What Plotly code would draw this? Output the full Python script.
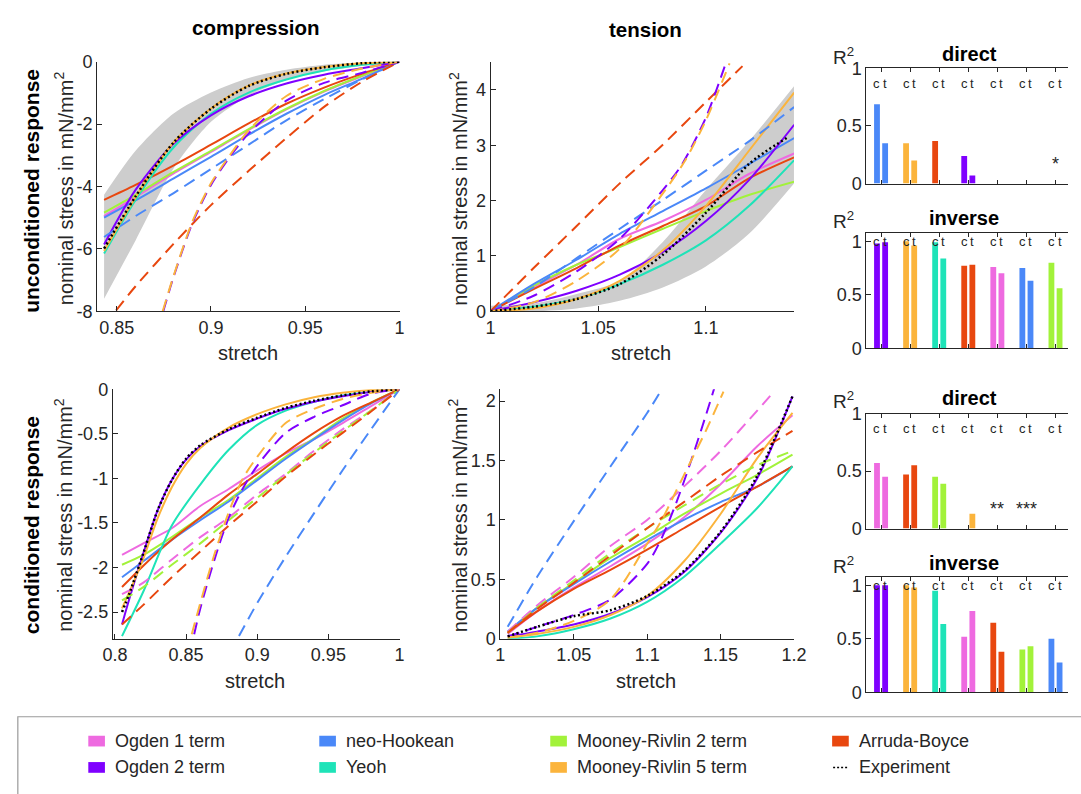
import plotly.graph_objects as go

W, H = 1081, 794

# ------------------------------------------------------------------ models
MODELS = ["Ogden 1 term", "Ogden 2 term", "neo-Hookean", "Yeoh",
          "Mooney-Rivlin 2 term", "Mooney-Rivlin 5 term", "Arruda-Boyce"]
COLORS = {
    "Ogden 1 term": "#EE6AE0",
    "Ogden 2 term": "#7F00FF",
    "neo-Hookean": "#4A88F8",
    "Yeoh": "#1EE3B8",
    "Mooney-Rivlin 2 term": "#A2F23A",
    "Mooney-Rivlin 5 term": "#FBB43C",
    "Arruda-Boyce": "#E8470F",
}

# ------------------------------------------- unconditioned, compression
uc_stretch = [0.8433, 0.86, 0.88, 0.90, 0.92, 0.94, 0.96, 0.98, 1.0]
uc_band_low = [-7.6, -5.73, -3.44, -1.93, -1.09, -0.59, -0.31, -0.14, 0.0]
uc_band_high = [-4.27, -2.86, -1.67, -0.99, -0.52, -0.26, -0.10, -0.03, 0.0]
uc_experiment = [-5.99, -4.32, -2.60, -1.51, -0.78, -0.39, -0.18, -0.05, 0.0]
uc_inverse = {
    "Ogden 1 term": [-4.95, -4.34, -3.59, -2.89, -2.19, -1.53, -0.96, -0.47, 0.0],
    "Mooney-Rivlin 2 term": [-4.84, -4.27, -3.54, -2.86, -2.16, -1.51, -0.94, -0.45, 0.0],
    "neo-Hookean": [-5.0, -4.45, -3.75, -3.05, -2.34, -1.67, -1.07, -0.55, 0.0],
    "Arruda-Boyce": [-4.43, -3.95, -3.33, -2.66, -1.98, -1.35, -0.83, -0.39, 0.0],
    "Ogden 2 term": [-5.86, -4.11, -2.64, -1.72, -1.11, -0.70, -0.42, -0.21, 0.0],
    "Yeoh": [-6.15, -4.43, -2.76, -1.67, -0.99, -0.57, -0.28, -0.10, 0.0],
    "Mooney-Rivlin 5 term": [-6.07, -4.35, -2.60, -1.50, -0.77, -0.38, -0.17, -0.05, 0.0],
}
uc_direct = {
    "neo-Hookean": ([0.8433, 0.86, 0.88, 0.90, 0.92, 0.94, 0.96, 0.98, 1.0],
                    [-5.62, -4.95, -4.22, -3.44, -2.66, -1.88, -1.20, -0.57, 0.0]),
    "Arruda-Boyce": ([0.8497, 0.86, 0.88, 0.90, 0.92, 0.94, 0.96, 0.98, 1.0],
                     [-7.97, -7.2, -5.85, -4.6, -3.5, -2.45, -1.45, -0.65, 0.0]),
    "Ogden 2 term": ([0.8747, 0.88, 0.89, 0.90, 0.91, 0.92, 0.94, 0.96, 0.98, 1.0],
                     [-8.0, -6.93, -5.2, -3.95, -3.05, -2.3, -1.25, -0.68, -0.36, 0.0]),
    "Mooney-Rivlin 5 term": ([0.8744, 0.88, 0.89, 0.90, 0.91, 0.92, 0.94, 0.96, 0.98, 1.0],
                             [-8.0, -6.9, -5.15, -3.9, -3.0, -2.2, -1.1, -0.55, -0.22, 0.0]),
}

# ---------------------------------------------- unconditioned, tension
ut_stretch = [1.0, 1.02, 1.04, 1.06, 1.08, 1.10, 1.12, 1.141]
ut_band_low = [0.0, 0.0, 0.05, 0.19, 0.43, 0.81, 1.40, 2.31]
ut_band_high = [0.10, 0.14, 0.31, 0.55, 1.25, 2.19, 3.07, 4.07]
ut_exp_stretch = [1.0, 1.02, 1.04, 1.06, 1.08, 1.10, 1.12, 1.1375]
ut_experiment = [0.0, 0.08, 0.22, 0.49, 1.02, 1.78, 2.66, 3.13]
ut_inverse = {
    "Ogden 1 term": [0.0, 0.43, 0.84, 1.31, 1.63, 2.01, 2.48, 2.85],
    "Mooney-Rivlin 2 term": [0.0, 0.46, 0.84, 1.16, 1.49, 1.81, 2.10, 2.34],
    "neo-Hookean": [0.0, 0.49, 0.93, 1.40, 1.81, 2.22, 2.66, 3.13],
    "Arruda-Boyce": [0.0, 0.40, 0.78, 1.19, 1.54, 1.90, 2.40, 2.78],
    "Yeoh": [0.0, 0.08, 0.22, 0.49, 0.84, 1.28, 1.90, 2.73],
    "Ogden 2 term": [0.0, 0.16, 0.37, 0.66, 1.07, 1.63, 2.37, 3.37],
    "Mooney-Rivlin 5 term": [0.0, 0.05, 0.22, 0.55, 1.10, 1.90, 2.90, 3.95],
}
ut_direct = {
    "neo-Hookean": ([1.0, 1.02, 1.04, 1.06, 1.08, 1.10, 1.12, 1.141],
                    [0.0, 0.43, 0.96, 1.49, 2.01, 2.54, 3.07, 3.69]),
    "Arruda-Boyce": ([1.0, 1.02, 1.04, 1.06, 1.08, 1.10, 1.117],
                     [0.0, 0.78, 1.54, 2.31, 3.01, 3.78, 4.43]),
    "Ogden 2 term": ([1.0, 1.02, 1.04, 1.06, 1.08, 1.089, 1.10, 1.1087],
                     [0.0, 0.28, 0.72, 1.31, 2.19, 2.66, 3.50, 4.42]),
    "Mooney-Rivlin 5 term": ([1.0, 1.02, 1.04, 1.06, 1.08, 1.09, 1.10, 1.111],
                             [0.0, 0.16, 0.55, 1.13, 2.13, 2.70, 3.45, 4.48]),
}

# --------------------------------------------- conditioned, compression
cc_stretch = [0.805, 0.82, 0.84, 0.86, 0.88, 0.90, 0.92, 0.94, 0.96, 0.98, 1.0]
cc_fine_stretch = [0.805, 0.81, 0.82, 0.83, 0.84, 0.85, 0.86, 0.88, 0.90, 0.92, 0.94,
                   0.96, 0.98, 1.0]
cc_experiment = [-2.50, -2.30, -1.84, -1.36, -1.02, -0.78, -0.63, -0.45, -0.32, -0.21,
                 -0.13, -0.07, -0.025, 0.0]
cc_inverse = {
    "Ogden 1 term": [-1.86, -1.73, -1.56, -1.31, -1.12, -0.91, -0.72, -0.56, -0.38, -0.19, 0.0],
    "Mooney-Rivlin 2 term": [-1.97, -1.86, -1.66, -1.44, -1.24, -1.00, -0.76, -0.55, -0.33, -0.15, 0.0],
    "neo-Hookean": [-2.11, -1.93, -1.69, -1.47, -1.26, -1.02, -0.78, -0.56, -0.35, -0.16, 0.0],
    "Arruda-Boyce": [-2.22, -1.98, -1.69, -1.44, -1.18, -0.95, -0.71, -0.49, -0.30, -0.15, 0.0],
    "Yeoh": [-2.77, -2.27, -1.53, -1.07, -0.68, -0.40, -0.24, -0.14, -0.07, -0.03, 0.0],
}
cc_inverse_fine = {
    "Ogden 2 term": [-2.64, -2.36, -1.84, -1.36, -1.02, -0.79, -0.64, -0.46, -0.33, -0.22,
                     -0.14, -0.08, -0.03, 0.0],
    "Mooney-Rivlin 5 term": [-2.46, -2.28, -1.90, -1.45, -1.10, -0.84, -0.66, -0.43, -0.28,
                             -0.17, -0.09, -0.04, -0.01, 0.0],
}
cc_direct = {
    "Ogden 1 term": (cc_stretch, [-2.30, -2.17, -1.91, -1.66, -1.44, -1.18, -0.95, -0.69, -0.45, -0.24, 0.0]),
    "Mooney-Rivlin 2 term": (cc_stretch, [-2.37, -2.22, -1.97, -1.73, -1.47, -1.22, -0.96, -0.71, -0.47, -0.24, 0.0]),
    "Arruda-Boyce": (cc_stretch, [-2.64, -2.42, -2.11, -1.82, -1.53, -1.26, -0.98, -0.73, -0.49, -0.25, 0.0]),
    "neo-Hookean": ([0.8872, 0.90, 0.92, 0.94, 0.96, 0.98, 1.0],
                    [-2.77, -2.40, -1.88, -1.39, -0.91, -0.45, 0.0]),
    "Ogden 2 term": ([0.8557, 0.86, 0.87, 0.88, 0.89, 0.90, 0.92, 0.94, 0.96, 0.98, 1.0],
                     [-2.75, -2.46, -1.91, -1.44, -1.11, -0.86, -0.49, -0.31, -0.18, -0.05, 0.0]),
    "Mooney-Rivlin 5 term": ([0.854, 0.86, 0.87, 0.88, 0.89, 0.90, 0.92, 0.94, 0.96, 0.98, 1.0],
                             [-2.75, -2.40, -1.85, -1.38, -1.00, -0.76, -0.38, -0.22, -0.11, -0.04, 0.0]),
}

# ------------------------------------------------ conditioned, tension
ct_stretch = [1.005, 1.025, 1.05, 1.075, 1.10, 1.125, 1.15, 1.175, 1.199]
ct_experiment = [0.02, 0.10, 0.19, 0.24, 0.36, 0.57, 0.90, 1.37, 2.04]
ct_inverse = {
    "Ogden 1 term": [0.04, 0.23, 0.43, 0.61, 0.80, 1.02, 1.30, 1.62, 1.88],
    "Mooney-Rivlin 2 term": [0.05, 0.26, 0.47, 0.68, 0.86, 1.05, 1.22, 1.38, 1.55],
    "neo-Hookean": [0.06, 0.26, 0.46, 0.65, 0.83, 1.00, 1.15, 1.28, 1.45],
    "Arruda-Boyce": [0.05, 0.23, 0.42, 0.58, 0.75, 0.93, 1.11, 1.28, 1.45],
    "Yeoh": [0.0, 0.02, 0.08, 0.17, 0.31, 0.52, 0.80, 1.10, 1.45],
    "Mooney-Rivlin 5 term": [0.01, 0.04, 0.10, 0.20, 0.36, 0.65, 1.05, 1.52, 1.90],
    "Ogden 2 term": [0.02, 0.06, 0.12, 0.21, 0.35, 0.56, 0.89, 1.35, 2.04],
}
ct_direct = {
    "Arruda-Boyce": (ct_stretch, [0.05, 0.25, 0.47, 0.70, 0.93, 1.15, 1.37, 1.57, 1.75]),
    "Mooney-Rivlin 2 term": (ct_stretch, [0.05, 0.26, 0.49, 0.72, 0.93, 1.12, 1.30, 1.46, 1.58]),
    "Ogden 1 term": ([1.005, 1.025, 1.05, 1.075, 1.10, 1.125, 1.15, 1.175, 1.185],
                     [0.06, 0.28, 0.52, 0.78, 1.00, 1.28, 1.58, 1.92, 2.06]),
    "neo-Hookean": ([1.005, 1.025, 1.05, 1.075, 1.10, 1.11],
                    [0.10, 0.52, 0.99, 1.45, 1.90, 2.10]),
    "Ogden 2 term": ([1.005, 1.025, 1.05, 1.075, 1.10, 1.11, 1.12, 1.13, 1.14, 1.146],
                     [0.02, 0.10, 0.20, 0.33, 0.63, 0.85, 1.15, 1.50, 1.88, 2.12]),
    "Mooney-Rivlin 5 term": ([1.005, 1.025, 1.05, 1.075, 1.10, 1.11, 1.12, 1.13, 1.14, 1.152],
                             [0.01, 0.05, 0.15, 0.33, 0.80, 1.00, 1.25, 1.50, 1.75, 2.08]),
}

# ------------------------------------------------------------ R^2 bars
uc_dir_models = ["neo-Hookean", "Mooney-Rivlin 5 term", "Arruda-Boyce", "Ogden 2 term",
                 "Ogden 1 term", "Yeoh", "Mooney-Rivlin 2 term"]
uc_dir_c = [0.69, 0.35, 0.37, 0.24, None, None, None]
uc_dir_t = [0.35, 0.20, None, 0.07, None, None, None]
uc_dir_marks = ["", "", "", "", "", "", "*"]

uc_inv_models = ["Ogden 2 term", "Mooney-Rivlin 5 term", "Yeoh", "Arruda-Boyce",
                 "Ogden 1 term", "neo-Hookean", "Mooney-Rivlin 2 term"]
uc_inv_c = [0.98, 1.0, 0.99, 0.77, 0.76, 0.75, 0.80]
uc_inv_t = [0.99, 0.96, 0.84, 0.78, 0.70, 0.63, 0.56]

c_dir_models = ["Ogden 1 term", "Arruda-Boyce", "Mooney-Rivlin 2 term", "Mooney-Rivlin 5 term",
                "Ogden 2 term", "Yeoh", "neo-Hookean"]
c_dir_c = [0.57, 0.47, 0.45, None, None, None, None]
c_dir_t = [0.45, 0.55, 0.39, 0.13, None, None, None]
c_dir_marks = ["", "", "", "", "**", "***", ""]

c_inv_models = ["Ogden 2 term", "Mooney-Rivlin 5 term", "Yeoh", "Ogden 1 term",
                "Arruda-Boyce", "Mooney-Rivlin 2 term", "neo-Hookean"]
c_inv_c = [1.0, 1.0, 0.95, 0.52, 0.65, 0.40, 0.50]
c_inv_t = [1.0, 0.98, 0.64, 0.76, 0.38, 0.43, 0.28]

# =================================================================== figure
FONT = "Liberation Sans, Arial, Helvetica, sans-serif"
AX = "#262626"
fig = go.Figure()


def px(x):
    return x / W


def py(y):
    return 1 - y / H


SOLID_ORDER = ["Ogden 1 term", "Mooney-Rivlin 2 term", "neo-Hookean", "Arruda-Boyce",
               "Yeoh", "Ogden 2 term", "Mooney-Rivlin 5 term"]
DASH = "12px,7px"
SPL = dict(shape="spline", smoothing=0.8)


def line_panel(n, stretch, inverse, direct, exp_x, exp_y, band=None, inverse_alt=None):
    xa, ya = ("x" if n == 1 else f"x{n}"), ("y" if n == 1 else f"y{n}")
    if band is not None:
        fig.add_trace(go.Scatter(x=stretch, y=band[0], mode="lines", line=dict(width=0, **SPL),
                                 xaxis=xa, yaxis=ya, showlegend=False, hoverinfo="skip"))
        fig.add_trace(go.Scatter(x=stretch, y=band[1], mode="lines", line=dict(width=0, **SPL),
                                 fill="tonexty", fillcolor="#CDCDCD",
                                 xaxis=xa, yaxis=ya, showlegend=False, hoverinfo="skip"))
    for m in SOLID_ORDER:
        if m in inverse:
            sx, sy = stretch, inverse[m]
        elif inverse_alt and m in inverse_alt[1]:
            sx, sy = inverse_alt[0], inverse_alt[1][m]
        else:
            continue
        fig.add_trace(go.Scatter(x=sx, y=sy, mode="lines",
                                 line=dict(color=COLORS[m], width=2, **SPL),
                                 xaxis=xa, yaxis=ya, showlegend=False, name=m))
    for m in SOLID_ORDER:
        if m in direct:
            dx, dy = direct[m]
            fig.add_trace(go.Scatter(x=dx, y=dy, mode="lines",
                                     line=dict(color=COLORS[m], width=2, dash=DASH, **SPL),
                                     xaxis=xa, yaxis=ya, showlegend=False, name=m))
    fig.add_trace(go.Scatter(x=exp_x, y=exp_y, mode="lines",
                             line=dict(color="black", width=2.5, dash="2px,2.6px", **SPL),
                             xaxis=xa, yaxis=ya, showlegend=False, name="Experiment"))


line_panel(1, uc_stretch, uc_inverse, uc_direct, uc_stretch, uc_experiment,
           band=(uc_band_low, uc_band_high))
line_panel(2, ut_stretch, ut_inverse, ut_direct, ut_exp_stretch, ut_experiment,
           band=(ut_band_low, ut_band_high))
line_panel(5, cc_stretch, cc_inverse, cc_direct, cc_fine_stretch, cc_experiment,
           inverse_alt=(cc_fine_stretch, cc_inverse_fine))
line_panel(6, ct_stretch, ct_inverse, ct_direct, ct_stretch, ct_experiment)

OFF, BW = 0.14, 0.2
annotations = []


def bar_panel(n, models, cvals, tvals, label_y, marks=None):
    xa, ya = f"x{n}", f"y{n}"
    groups = list(range(1, len(models) + 1))
    cols = [COLORS[m] for m in models]
    fig.add_trace(go.Bar(x=[g - OFF for g in groups], y=cvals, width=BW, marker_color=cols,
                         marker_line_width=0, xaxis=xa, yaxis=ya, showlegend=False))
    fig.add_trace(go.Bar(x=[g + OFF for g in groups], y=tvals, width=BW, marker_color=cols,
                         marker_line_width=0, xaxis=xa, yaxis=ya, showlegend=False))
    for g in groups:
        for dx, s in ((-OFF, "c"), (OFF, "t")):
            annotations.append(dict(x=g + dx, y=label_y, xref=xa, yref=ya, text=s,
                                    showarrow=False, font=dict(size=13, color=AX, family=FONT)))
    if marks:
        for g, mk in zip(groups, marks):
            if mk:
                annotations.append(dict(x=g, y=0.17, xref=xa, yref=ya, text=mk, showarrow=False,
                                        font=dict(size=18, color=AX, family=FONT)))


bar_panel(3, uc_dir_models, uc_dir_c, uc_dir_t, 0.87, uc_dir_marks)
bar_panel(4, uc_inv_models, uc_inv_c, uc_inv_t, 1.0)
bar_panel(7, c_dir_models, c_dir_c, c_dir_t, 0.87, c_dir_marks)
bar_panel(8, c_inv_models, c_inv_c, c_inv_t, 1.0)

# ------------------------------------------------------------------ axes
common = dict(showgrid=False, zeroline=False, showline=True, linecolor=AX, linewidth=1,
              ticks="inside", ticklen=5, tickcolor=AX,
              tickfont=dict(size=18, color=AX, family=FONT))
line_axes = {
    1: dict(xd=(89, 398), yd=(53, 309), xr=[0.8396, 1.0], yr=[-8, 0],
            xt=[0.85, 0.9, 0.95, 1.0], xtt=["0.85", "0.9", "0.95", "1"],
            yt=[-8, -6, -4, -2, 0], ytt=["-8", "-6", "-4", "-2", "0"]),
    2: dict(xd=(491, 801), yd=(53, 309), xr=[1.0, 1.1409], yr=[0, 4.51],
            xt=[1.0, 1.05, 1.1], xtt=["1", "1.05", "1.1"],
            yt=[0, 1, 2, 3, 4], ytt=["0", "1", "2", "3", "4"]),
    5: dict(xd=(105, 398), yd=(389, 645), xr=[0.7985, 1.0], yr=[-2.8, 0],
            xt=[0.8, 0.85, 0.9, 0.95, 1.0], xtt=["0.8", "0.85", "0.9", "0.95", "1"],
            yt=[-2.5, -2, -1.5, -1, -0.5, 0], ytt=["-2.5", "-2", "-1.5", "-1", "-0.5", "0"]),
    6: dict(xd=(501, 801), yd=(389, 645), xr=[1.0, 1.2], yr=[0, 2.1],
            xt=[1.0, 1.05, 1.1, 1.15, 1.2], xtt=["1", "1.05", "1.1", "1.15", "1.2"],
            yt=[0, 0.5, 1, 1.5, 2], ytt=["0", "0.5", "1", "1.5", "2"]),
}
layout_axes = {}
for n, a in line_axes.items():
    xk = "xaxis" if n == 1 else f"xaxis{n}"
    yk = "yaxis" if n == 1 else f"yaxis{n}"
    layout_axes[xk] = dict(common, domain=[px(a["xd"][0]), px(a["xd"][1])], range=a["xr"],
                           tickvals=a["xt"], ticktext=a["xtt"],
                           anchor="y" if n == 1 else f"y{n}")
    layout_axes[yk] = dict(common, domain=[py(a["yd"][1]), py(a["yd"][0])], range=a["yr"],
                           tickvals=a["yt"], ticktext=a["ytt"],
                           anchor="x" if n == 1 else f"x{n}")

bar_axes = {3: ((60, 178), [0, 1.0]), 4: ((229, 347), [0, 1.075]),
            7: ((414, 532), [0, 1.0]), 8: ((582, 700), [0, 1.075])}
for n, (yd, yr) in bar_axes.items():
    layout_axes[f"xaxis{n}"] = dict(common, domain=[px(875), 1.0], range=[0.495, 7.43],
                                    tickvals=list(range(1, 8)), showticklabels=False,
                                    ticklen=4, mirror="ticks", anchor=f"y{n}")
    layout_axes[f"yaxis{n}"] = dict(common, domain=[py(yd[1]), py(yd[0])], range=yr,
                                    tickvals=[0, 0.5, 1], ticktext=["0", "0.5", "1"],
                                    anchor=f"x{n}")


def txt(x, y, s, size=18, bold=False, angle=0, color=AX):
    annotations.append(dict(x=px(x), y=py(y), xref="paper", yref="paper",
                            text=f"<b>{s}</b>" if bold else s, showarrow=False,
                            textangle=angle, xanchor="center", yanchor="middle",
                            font=dict(size=size, color=color, family=FONT)))


txt(251, 18, "compression", 20.5, bold=True, color="black")
txt(649, 20, "tension", 20.5, bold=True, color="black")
txt(22, 186, "unconditioned response", 21, bold=True, angle=-90, color="black")
txt(22, 529, "conditioned response", 21, bold=True, angle=-90, color="black")
YT = "nominal stress in mN/mm<sup>2</sup>"
for (x, y) in ((55, 183), (458, 183), (55, 518), (458, 518)):
    txt(x, y, YT, 20, angle=-90)
for (x, y) in ((243, 352), (645, 352), (250, 688), (650, 688)):
    txt(x, y, "stretch", 20)
for (x, y, s) in ((980, 45, "direct"), (975, 213, "inverse"),
                  (980, 398, "direct"), (975, 567, "inverse")):
    txt(x, y, s, 20, bold=True, color="black")
    txt(852, y + 2, "R<sup>2</sup>", 19)

# ---------------------------------------------------------------- legend
shapes = [dict(type="rect", xref="paper", yref="paper", x0=px(8), x1=1.02, y0=-0.02,
               y1=py(725), line=dict(color="#9A9A9A", width=1.2), fillcolor="rgba(0,0,0,0)")]
leg_entries = [("Ogden 1 term", 80, 750), ("Ogden 2 term", 80, 777),
               ("neo-Hookean", 316, 750), ("Yeoh", 316, 777),
               ("Mooney-Rivlin 2 term", 552, 750), ("Mooney-Rivlin 5 term", 552, 777),
               ("Arruda-Boyce", 840, 750)]
for name, x, y in leg_entries:
    shapes.append(dict(type="rect", xref="paper", yref="paper", x0=px(x), x1=px(x + 17),
                       y0=py(y + 5.5), y1=py(y - 5.5), line=dict(width=0),
                       fillcolor=COLORS[name]))
    annotations.append(dict(x=px(x + 25), y=py(y), xref="paper", yref="paper", text=name,
                            showarrow=False, xanchor="left", yanchor="middle",
                            font=dict(size=18, color=AX, family=FONT)))
shapes.append(dict(type="line", xref="paper", yref="paper", x0=px(841), x1=px(857),
                   y0=py(777), y1=py(777), line=dict(color="black", width=1.5, dash="2px,2px")))
annotations.append(dict(x=px(865), y=py(777), xref="paper", yref="paper", text="Experiment",
                        showarrow=False, xanchor="left", yanchor="middle",
                        font=dict(size=18, color=AX, family=FONT)))

fig.update_layout(width=W, height=H, margin=dict(l=0, r=0, t=0, b=0),
                  paper_bgcolor="white", plot_bgcolor="white", barmode="overlay",
                  showlegend=False, annotations=annotations, shapes=shapes,
                  font=dict(family=FONT), **layout_axes)

fig.write_html("out.html")
